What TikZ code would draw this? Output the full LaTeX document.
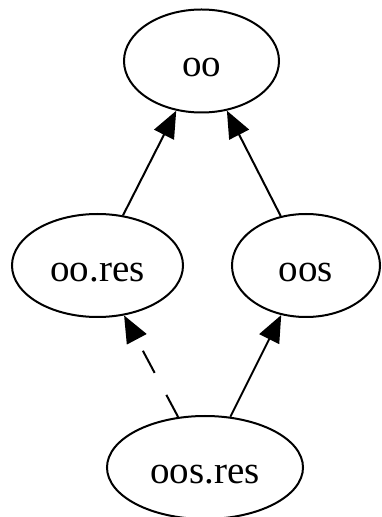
\documentclass[tikz,border=0pt]{standalone}
\usepackage{fontspec}
\setmainfont{Liberation Serif}
\usetikzlibrary{shapes.geometric, arrows.meta}

\begin{document}
\begin{tikzpicture}[x=1pt, y=1pt,
    pkg/.style={draw, ellipse, line width=2pt, inner sep=0pt, minimum height=103pt,
                text height=32pt, text depth=0pt, font=\fontsize{39}{39}\selectfont},
    dep/.style={line width=2pt, -{Triangle[length=27pt, width=22pt]}},
    optdep/.style={dep, dash pattern=on 25pt off 25pt}]
    \useasboundingbox (0,0) rectangle (381,517);

    % Packages
    \node[pkg, minimum width=155pt] (oo) at (201.5, 456) {oo};
    \node[pkg, minimum width=171pt] (oores) at (97.5, 251.5) {oo.res};
    \node[pkg, minimum width=148pt] (oos) at (306, 251.5) {oos};
    \node[pkg, minimum width=196pt] (oosres) at (205, 49.5) {oos.res};

    % Dependencies
    \draw[dep] (oores) -- (oo);
    \draw[dep] (oos) -- (oo);
    \draw[optdep] (oosres) -- (oores);
    \draw[dep] (oosres) -- (oos);
\end{tikzpicture}
\end{document}
